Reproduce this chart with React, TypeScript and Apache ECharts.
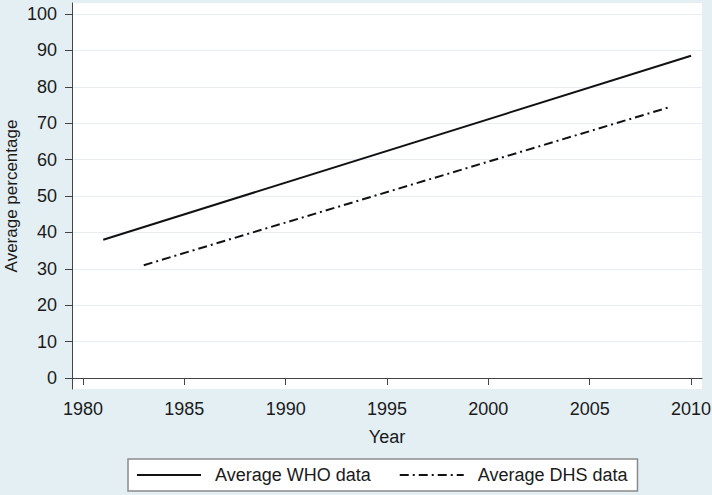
import React, { useEffect, useRef } from "react";
import * as echarts from "echarts";

const whoYears = [1981, 2010];
const whoValues = [38, 88.5];
const dhsYears = [1983, 2009];
const dhsValues = [31, 74.5];
const xTicks = [1980, 1985, 1990, 1995, 2000, 2005, 2010];
const yTicks = [0, 10, 20, 30, 40, 50, 60, 70, 80, 90, 100];

export default function App() {
  const ref = useRef<HTMLDivElement>(null);
  useEffect(() => {
    const chart = echarts.init(ref.current!, null, { renderer: "svg" });
    const font = "'Liberation Sans', Arial, sans-serif";
    chart.setOption({
      animation: false,
      backgroundColor: "#e4eff4",
      textStyle: { fontFamily: font },
      grid: {
        left: 72,
        right: 10,
        top: 3,
        bottom: 106,
        show: true,
        backgroundColor: "#ffffff",
        borderWidth: 0,
        containLabel: false,
        outerBoundsMode: "none",
      },
      legend: {
        left: 128,
        top: 459,
        padding: [7, 10, 7, 8],
        borderColor: "#8a8a8a",
        borderWidth: 1.5,
        backgroundColor: "#ffffff",
        itemWidth: 64,
        itemHeight: 18,
        itemGap: 28,
        itemStyle: { opacity: 0 },
        textStyle: { fontSize: 18, color: "#1a1a1a", fontFamily: font, padding: [0, 0, 0, 9] },
        data: ["Average WHO data", "Average DHS data"],
      },
      xAxis: {
        type: "value",
        min: 1979.46,
        max: 2010.54,
        name: "Year",
        nameLocation: "middle",
        nameGap: 39,
        nameMoveOverlap: false,
        nameTextStyle: { fontSize: 18, color: "#1a1a1a" },
        axisLine: { show: true, lineStyle: { color: "#444", width: 1 } },
        axisTick: { show: true, length: 7, customValues: xTicks, lineStyle: { color: "#444" } },
        axisLabel: {
          customValues: xTicks,
          fontSize: 18,
          color: "#1a1a1a",
          margin: 11,
          formatter: (v: number) => String(Math.round(v)),
        },
        splitLine: { show: false },
      },
      yAxis: {
        type: "value",
        min: -3,
        max: 103,
        name: "Average percentage",
        nameLocation: "middle",
        nameGap: 52,
        nameMoveOverlap: false,
        nameTextStyle: { fontSize: 17, color: "#1a1a1a" },
        axisLine: { show: true, lineStyle: { color: "#444", width: 1 } },
        axisTick: { show: true, length: 7, customValues: yTicks, lineStyle: { color: "#444" } },
        axisLabel: {
          customValues: yTicks,
          fontSize: 18,
          color: "#1a1a1a",
          margin: 15,
          formatter: (v: number) => String(Math.round(v)),
        },
        splitLine: { show: true, lineStyle: { color: "#e6eef2", width: 1 } },
      },
      series: [
        {
          name: "Average WHO data",
          type: "line",
          data: whoYears.map((y, i) => [y, whoValues[i]]),
          symbol: "none",
          lineStyle: { color: "#111", width: 2, type: "solid" },
          itemStyle: { color: "#111" },
        },
        {
          name: "Average DHS data",
          type: "line",
          data: dhsYears.map((y, i) => [y, dhsValues[i]]),
          symbol: "none",
          lineStyle: { color: "#111", width: 2, type: [9, 4, 2, 4] },
          itemStyle: { color: "#111" },
        },
      ],
    });
    return () => chart.dispose();
  }, []);
  return <div ref={ref} style={{ width: 712, height: 495, position: "absolute", left: 0, top: 0 }} />;
}
